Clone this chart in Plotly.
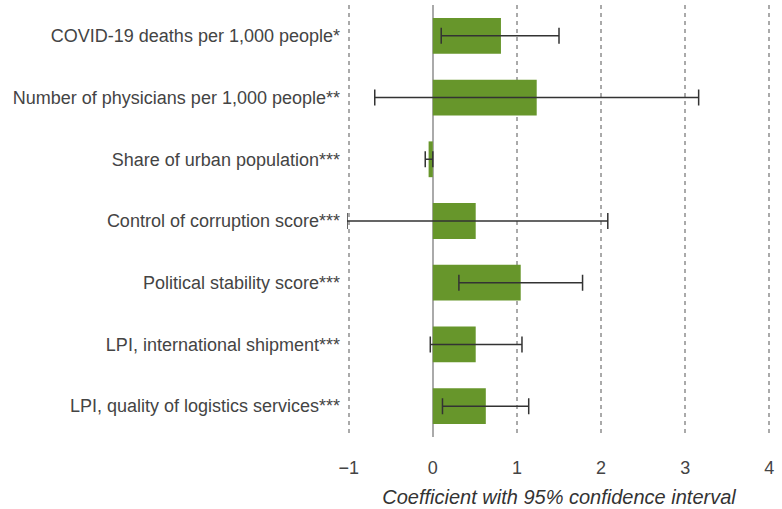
import plotly.graph_objects as go

categories = [
    "COVID-19 deaths per 1,000 people*",
    "Number of physicians per 1,000 people**",
    "Share of urban population***",
    "Control of corruption score***",
    "Political stability score***",
    "LPI, international shipment***",
    "LPI, quality of logistics services***",
]
coef = [0.81, 1.235, -0.05, 0.51, 1.045, 0.51, 0.63]
ci_low = [0.10, -0.69, -0.09, -1.02, 0.31, -0.03, 0.115]
ci_high = [1.50, 3.16, 0.0, 2.08, 1.78, 1.06, 1.14]

err_plus = [h - c for h, c in zip(ci_high, coef)]
err_minus = [c - l for c, l in zip(coef, ci_low)]

fig = go.Figure()
fig.add_trace(
    go.Bar(
        x=coef,
        y=categories,
        orientation="h",
        width=0.58,
        marker=dict(color="#67962b", line=dict(width=0)),
        error_x=dict(
            type="data",
            symmetric=False,
            array=err_plus,
            arrayminus=err_minus,
            color="#333333",
            thickness=1.5,
            width=8,
        ),
        showlegend=False,
    )
)

# slightly padded range so the gridlines at -1 and 4 are drawn
fig.update_layout(
    width=782, height=509,
    margin=dict(l=347, r=11, t=5, b=72),
    plot_bgcolor="#ffffff",
    paper_bgcolor="#ffffff",
    font=dict(family="Liberation Sans, Arial, sans-serif", size=18, color="#444444"),
    xaxis=dict(
        range=[-1.02, 4.02],
        tickvals=[-1, 0, 1, 2, 3, 4],
        showgrid=True,
        gridcolor="#aaaaaa",
        gridwidth=1.5,
        griddash="4px,4px",
        zeroline=True,
        zerolinecolor="#aaaaaa",
        zerolinewidth=1.5,
        showline=False,
        ticks="",
        ticklabelstandoff=18,
        tickfont=dict(size=18, color="#444444"),
        title=dict(
            text="<i>Coefficient with 95% confidence interval</i>",
            font=dict(size=20, color="#333333"),
            standoff=12,
        ),
    ),
    yaxis=dict(
        autorange="reversed",
        showgrid=False,
        zeroline=False,
        showline=False,
        ticks="",
        ticklabelstandoff=6,
        tickfont=dict(size=18, color="#444444"),
    ),
)

fig.write_html(
    "out.html",
    config={"displayModeBar": False},
    post_script="document.body.style.margin='0';",
)
